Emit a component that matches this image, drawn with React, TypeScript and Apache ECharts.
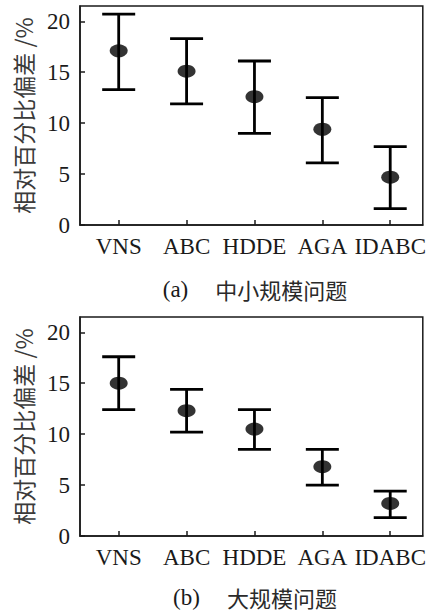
import React, { useEffect, useRef } from "react";
import * as echarts from "echarts";

const categories = ["VNS", "ABC", "HDDE", "AGA", "IDABC"];
const positions = [1, 2, 3, 4, 5];

// Panel (a): small/medium scale problems
const meanA = [17.1, 15.1, 12.6, 9.4, 4.7];
const lowerA = [13.3, 11.9, 9.0, 6.1, 1.6];
const upperA = [20.7, 18.3, 16.1, 12.5, 7.7];

// Panel (b): large scale problems
const meanB = [15.0, 12.3, 10.5, 6.8, 3.2];
const lowerB = [12.4, 10.2, 8.5, 5.0, 1.8];
const upperB = [17.6, 14.4, 12.4, 8.5, 4.4];

const yTicks = [0, 5, 10, 15, 20];
const yName = "相对百分比偏差 /%";
const captionA = ["(a)", "中小规模问题"];
const captionB = ["(b)", "大规模问题"];

const SERIF = "'Liberation Serif', 'Times New Roman', serif";
const CJK = "'Noto Sans CJK SC', 'Noto Sans', sans-serif";
const INK = "#1a1a1a";

function errorBarItem(params: any, api: any) {
  const x = api.value(0);
  const lo = api.value(1);
  const hi = api.value(2);
  const pLo = api.coord([x, lo]);
  const pHi = api.coord([x, hi]);
  const hw = 16.5;
  const style = { stroke: "#000", lineWidth: 2.8 };
  return {
    type: "group",
    children: [
      { type: "line", shape: { x1: pLo[0], y1: pLo[1], x2: pHi[0], y2: pHi[1] }, style },
      { type: "line", shape: { x1: pHi[0] - hw, y1: pHi[1], x2: pHi[0] + hw, y2: pHi[1] }, style },
      { type: "line", shape: { x1: pLo[0] - hw, y1: pLo[1], x2: pLo[0] + hw, y2: pLo[1] }, style },
    ],
  };
}

function makeXAxis(gridIndex: number) {
  return {
    type: "value",
    gridIndex,
    min: 0.43,
    max: 5.48,
    axisLine: { show: true, onZero: false, lineStyle: { color: INK, width: 1.5 } },
    axisTick: { show: true, inside: true, length: 5, customValues: positions, lineStyle: { color: INK, width: 1.5 } },
    axisLabel: {
      customValues: positions,
      formatter: (v: number) => categories[Math.round(v) - 1] ?? "",
      fontFamily: SERIF,
      fontSize: 23,
      color: INK,
      margin: 10,
    },
    splitLine: { show: false },
  };
}

function makeYAxis(gridIndex: number) {
  return {
    type: "value",
    gridIndex,
    min: 0,
    max: 21.5,
    interval: 5,
    name: yName,
    nameLocation: "middle",
    nameGap: 46,
    nameTextStyle: { fontFamily: CJK, fontSize: 23, color: "#3a3a3a" },
    axisLine: { show: true, lineStyle: { color: INK, width: 1.5 } },
    axisTick: { show: true, inside: true, length: 5, customValues: yTicks, lineStyle: { color: INK, width: 1.5 } },
    axisLabel: {
      customValues: yTicks,
      formatter: (v: number) => (yTicks.includes(v) ? String(v) : ""),
      fontFamily: SERIF,
      fontSize: 23,
      color: INK,
      margin: 10,
    },
    splitLine: { show: false },
  };
}

function caption(parts: string[], y: number) {
  return {
    type: "text",
    x: 255,
    y,
    style: {
      text: `{s|${parts[0]}}{c|${parts[1]}}`,
      align: "center",
      verticalAlign: "middle",
      rich: {
        s: { fontFamily: SERIF, fontSize: 23, lineHeight: 24, fill: INK },
        c: { fontFamily: CJK, fontSize: 22, lineHeight: 24, fill: "#2a2a2a", padding: [0, 0, 0, 27] },
      },
    },
  };
}

export default function App() {
  const ref = useRef<HTMLDivElement>(null);
  useEffect(() => {
    if (!ref.current) return;
    const chart = echarts.init(ref.current, undefined, { renderer: "svg" });
    const errA = positions.map((p, i) => [p, lowerA[i], upperA[i]]);
    const errB = positions.map((p, i) => [p, lowerB[i], upperB[i]]);
    const ptsA = positions.map((p, i) => [p, meanA[i]]);
    const ptsB = positions.map((p, i) => [p, meanB[i]]);
    chart.setOption({
      animation: false,
      backgroundColor: "#fff",
      grid: [
        { left: 80, top: 6, width: 347, height: 219, show: true, borderColor: INK, borderWidth: 1.5, backgroundColor: "transparent" },
        { left: 80, top: 317, width: 347, height: 219, show: true, borderColor: INK, borderWidth: 1.5, backgroundColor: "transparent" },
      ],
      xAxis: [makeXAxis(0), makeXAxis(1)],
      yAxis: [makeYAxis(0), makeYAxis(1)],
      series: [
        { type: "custom", xAxisIndex: 0, yAxisIndex: 0, renderItem: errorBarItem, encode: { x: 0, y: [1, 2] }, data: errA, z: 2 },
        { type: "scatter", xAxisIndex: 0, yAxisIndex: 0, symbol: "circle", symbolSize: [18, 13], itemStyle: { color: "#000" }, data: ptsA, z: 3 },
        { type: "custom", xAxisIndex: 1, yAxisIndex: 1, renderItem: errorBarItem, encode: { x: 0, y: [1, 2] }, data: errB, z: 2 },
        { type: "scatter", xAxisIndex: 1, yAxisIndex: 1, symbol: "circle", symbolSize: [18, 13], itemStyle: { color: "#000" }, data: ptsB, z: 3 },
      ],
      graphic: [caption(captionA, 289), caption(captionB, 597)],
    });
    return () => chart.dispose();
  }, []);
  return <div ref={ref} style={{ position: "absolute", left: 0, top: 0, width: 429, height: 613 }} />;
}
